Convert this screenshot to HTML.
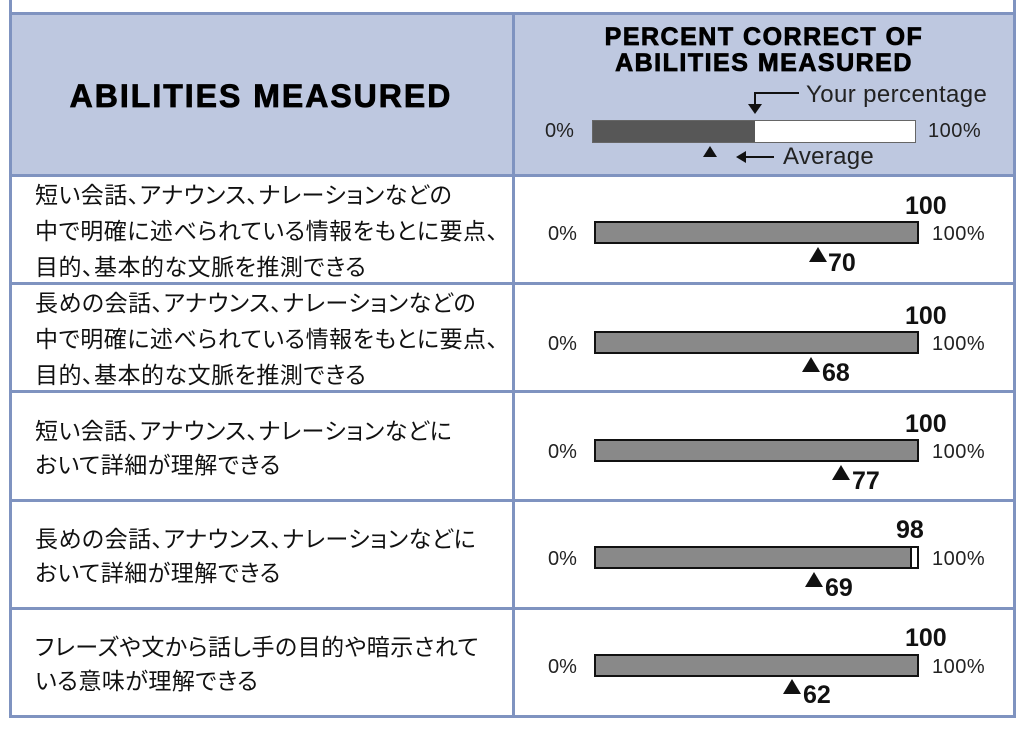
<!DOCTYPE html>
<html><head><meta charset="utf-8"><style>
body{margin:0;width:1024px;height:731px;background:#fff;position:relative;overflow:hidden;font-family:"Liberation Sans","Noto Sans CJK JP",sans-serif}
.a{position:absolute}
.hl{position:absolute;background:#7f93c0}
.jp{position:absolute;left:35px;font-size:23px;line-height:36px;color:#111;font-family:"Noto Sans CJK JP",sans-serif;font-feature-settings:"palt";letter-spacing:0.5px}
.bar{position:absolute;left:594px;width:321px;height:19px;border:2px solid #111;background:#898989}
.p0{position:absolute;left:548px;font-size:20px;color:#222}
.p1{position:absolute;left:932px;font-size:20px;color:#222;letter-spacing:0.5px}
.sc{position:absolute;font-size:25px;font-weight:bold;color:#111}
.tri{position:absolute;width:0;height:0;border-left:9px solid transparent;border-right:9px solid transparent;border-bottom:15px solid #111}
.av{position:absolute;font-size:25px;font-weight:bold;color:#111}
.hd{font-weight:900;-webkit-text-stroke:0.8px #000}
</style></head><body>
<div class="a" style="left:10px;top:13px;width:1005px;height:162px;background:#bec8e0"></div>
<div class="hl" style="left:9px;top:0;width:3px;height:718px"></div>
<div class="hl" style="left:1013px;top:0;width:3px;height:718px"></div>
<div class="hl" style="left:512px;top:13px;width:3px;height:705px"></div>
<div class="hl" style="left:9px;top:12px;width:1007px;height:3px"></div>
<div class="hl" style="left:9px;top:174px;width:1007px;height:3px"></div>
<div class="hl" style="left:9px;top:282px;width:1007px;height:3px"></div>
<div class="hl" style="left:9px;top:390px;width:1007px;height:3px"></div>
<div class="hl" style="left:9px;top:499px;width:1007px;height:3px"></div>
<div class="hl" style="left:9px;top:607px;width:1007px;height:3px"></div>
<div class="hl" style="left:9px;top:715px;width:1007px;height:3px"></div>

<div class="a hd" style="left:10px;width:502px;top:78px;text-align:center;font-size:32px;letter-spacing:2px">ABILITIES MEASURED</div>
<div class="a hd" style="left:515px;width:498px;top:24px;text-align:center;font-size:25px;line-height:26px;letter-spacing:1.5px">PERCENT CORRECT OF<br>ABILITIES MEASURED</div>
<div class="a" style="left:592px;top:120px;width:322px;height:21px;border:1px solid #666;background:#fff"></div>
<div class="a" style="left:593px;top:121px;width:162px;height:21px;background:#575757"></div>
<div class="a" style="left:545px;top:120px;font-size:20px;color:#222">0%</div>
<div class="a" style="left:928px;top:120px;font-size:20px;color:#222;letter-spacing:0.5px">100%</div>
<div class="a" style="left:806px;top:81px;font-size:24px;color:#222;letter-spacing:0.4px">Your percentage</div>
<div class="a" style="left:754px;top:92px;width:45px;height:2px;background:#111"></div>
<div class="a" style="left:754px;top:92px;width:2px;height:14px;background:#111"></div>
<div class="a" style="left:748px;top:104px;border-left:7px solid transparent;border-right:7px solid transparent;border-top:10px solid #111"></div>
<div class="tri" style="left:703px;top:146px;border-left-width:7px;border-right-width:7px;border-bottom-width:11px"></div>
<div class="a" style="left:736px;top:151px;border-top:6px solid transparent;border-bottom:6px solid transparent;border-right:10px solid #111"></div>
<div class="a" style="left:744px;top:156px;width:30px;height:2px;background:#111"></div>
<div class="a" style="left:783px;top:143px;font-size:24px;color:#222;letter-spacing:0.3px">Average</div>

<div class="jp" style="top:175px">短い会話、アナウンス、ナレーションなどの<br>中で明確に述べられている情報をもとに要点、<br>目的、基本的な文脈を推測できる</div>
<div class="jp" style="top:283px">長めの会話、アナウンス、ナレーションなどの<br>中で明確に述べられている情報をもとに要点、<br>目的、基本的な文脈を推測できる</div>
<div class="jp" style="top:412px;line-height:34px">短い会話、アナウンス、ナレーションなどに<br>おいて詳細が理解できる</div>
<div class="jp" style="top:520px;line-height:34px">長めの会話、アナウンス、ナレーションなどに<br>おいて詳細が理解できる</div>
<div class="jp" style="top:628px;line-height:34px">フレーズや文から話し手の目的や暗示されて<br>いる意味が理解できる</div>

<div class="bar" style="top:221px"></div><div class="p0" style="top:223px">0%</div><div class="p1" style="top:223px">100%</div>
<div class="sc" style="left:905px;top:192px">100</div><div class="tri" style="left:809px;top:247px"></div><div class="av" style="left:828px;top:249px">70</div>

<div class="bar" style="top:331px"></div><div class="p0" style="top:333px">0%</div><div class="p1" style="top:333px">100%</div>
<div class="sc" style="left:905px;top:302px">100</div><div class="tri" style="left:802px;top:357px"></div><div class="av" style="left:822px;top:359px">68</div>

<div class="bar" style="top:439px"></div><div class="p0" style="top:441px">0%</div><div class="p1" style="top:441px">100%</div>
<div class="sc" style="left:905px;top:410px">100</div><div class="tri" style="left:832px;top:465px"></div><div class="av" style="left:852px;top:467px">77</div>

<div class="bar" style="top:546px;background:#fff"></div><div class="a" style="left:596px;top:548px;width:314px;height:19px;background:#898989;border-right:2px solid #111"></div>
<div class="p0" style="top:548px">0%</div><div class="p1" style="top:548px">100%</div>
<div class="sc" style="left:896px;top:516px">98</div><div class="tri" style="left:805px;top:572px"></div><div class="av" style="left:825px;top:574px">69</div>

<div class="bar" style="top:654px"></div><div class="p0" style="top:656px">0%</div><div class="p1" style="top:656px">100%</div>
<div class="sc" style="left:905px;top:624px">100</div><div class="tri" style="left:783px;top:679px"></div><div class="av" style="left:803px;top:681px">62</div>
</body></html>
